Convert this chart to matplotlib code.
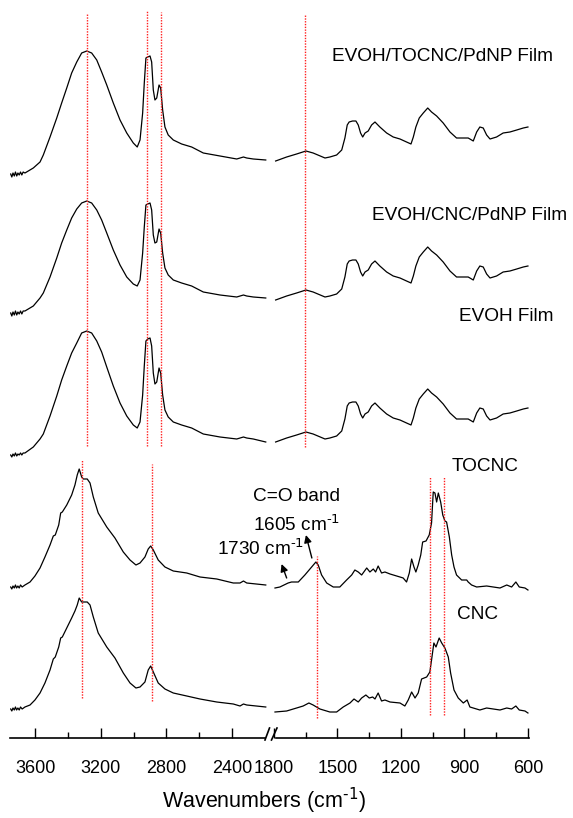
import matplotlib
matplotlib.use("Agg")
import matplotlib.pyplot as plt
from matplotlib.lines import Line2D

plt.rcParams["font.family"] = ["Liberation Sans", "DejaVu Sans"]
plt.rcParams["mathtext.default"] = "regular"
plt.rcParams["axes.unicode_minus"] = False

# ---- spectra, stacked absorbance (a.u.), high-wavenumber part (3750-2200 cm-1)
wn_hi_film = [3750, 3743, 3736, 3728, 3721, 3713, 3706, 3698, 3690, 3682, 3674, 3663,
              3612, 3571, 3551, 3510, 3469, 3439, 3408, 3378, 3347, 3317, 3286, 3256,
              3225, 3195, 3164, 3124, 3083, 3042, 3002, 2978, 2961, 2945, 2935, 2925,
              2914, 2900, 2890, 2880, 2870, 2859, 2845, 2835, 2823, 2809, 2789, 2758,
              2707, 2646, 2575, 2473, 2371, 2330, 2310, 2270, 2194]
ab_hi_tocnc_film = [5.64, 5.61, 5.65, 5.62, 5.66, 5.62, 5.65, 5.63, 5.66, 5.63, 5.66, 5.65,
                    5.70, 5.76, 5.83, 6.01, 6.20, 6.35, 6.50, 6.65, 6.76, 6.85, 6.87, 6.85,
                    6.78, 6.66, 6.53, 6.35, 6.18, 6.05, 5.95, 5.91, 5.98, 6.25, 6.55, 6.80,
                    6.81, 6.82, 6.76, 6.48, 6.38, 6.40, 6.53, 6.50, 6.28, 6.11, 6.03, 5.98,
                    5.94, 5.91, 5.85, 5.82, 5.79, 5.81, 5.80, 5.79, 5.78]
ab_hi_cnc_film = [4.25, 4.22, 4.26, 4.23, 4.27, 4.23, 4.26, 4.24, 4.27, 4.24, 4.27, 4.27,
                  4.32, 4.40, 4.45, 4.61, 4.80, 4.95, 5.08, 5.20, 5.29, 5.35, 5.37, 5.35,
                  5.28, 5.18, 5.05, 4.88, 4.73, 4.61, 4.54, 4.52, 4.58, 4.85, 5.11, 5.33,
                  5.34, 5.35, 5.28, 5.03, 4.95, 4.96, 5.09, 5.05, 4.85, 4.70, 4.63, 4.58,
                  4.55, 4.52, 4.46, 4.43, 4.41, 4.43, 4.42, 4.41, 4.40]
ab_hi_evoh = [2.83, 2.81, 2.84, 2.82, 2.85, 2.82, 2.84, 2.83, 2.85, 2.83, 2.85, 2.85,
              2.91, 2.99, 3.04, 3.22, 3.42, 3.58, 3.72, 3.85, 3.95, 4.05, 4.07, 4.05,
              3.97, 3.86, 3.71, 3.52, 3.35, 3.22, 3.13, 3.10, 3.16, 3.43, 3.72, 3.97,
              3.99, 4.00, 3.92, 3.65, 3.54, 3.56, 3.70, 3.65, 3.43, 3.28, 3.21, 3.16,
              3.13, 3.10, 3.04, 3.01, 2.99, 3.01, 3.00, 2.99, 2.96]

wn_hi_nc = [3750, 3743, 3736, 3728, 3721, 3714, 3706, 3698, 3690, 3680, 3663, 3632,
            3602, 3571, 3541, 3510, 3490, 3478, 3457, 3445, 3435, 3408, 3378, 3358,
            3344, 3332, 3317, 3307, 3283, 3266, 3246, 3216, 3164, 3114, 3063, 3022,
            2986, 2961, 2931, 2911, 2896, 2880, 2850, 2809, 2758, 2676, 2595, 2493,
            2392, 2351, 2330, 2310, 2194]
ab_hi_tocnc = [1.51, 1.49, 1.52, 1.50, 1.53, 1.50, 1.52, 1.50, 1.53, 1.51, 1.53, 1.56,
               1.62, 1.70, 1.81, 1.93, 2.02, 2.03, 2.13, 2.25, 2.26, 2.33, 2.43, 2.53,
               2.63, 2.69, 2.61, 2.59, 2.59, 2.55, 2.41, 2.25, 2.11, 2.00, 1.86, 1.78,
               1.73, 1.75, 1.81, 1.89, 1.92, 1.88, 1.78, 1.71, 1.67, 1.65, 1.61, 1.59,
               1.55, 1.55, 1.57, 1.55, 1.53]
ab_hi_cnc = [0.29, 0.27, 0.30, 0.28, 0.31, 0.28, 0.30, 0.28, 0.31, 0.29, 0.31, 0.33,
             0.38, 0.45, 0.55, 0.68, 0.79, 0.81, 0.91, 1.00, 1.01, 1.10, 1.20, 1.27,
             1.33, 1.40, 1.36, 1.36, 1.36, 1.33, 1.21, 1.05, 0.91, 0.80, 0.65, 0.55,
             0.50, 0.51, 0.56, 0.68, 0.72, 0.66, 0.55, 0.49, 0.45, 0.42, 0.39, 0.36,
             0.34, 0.32, 0.34, 0.33, 0.31]

# ---- low-wavenumber part (1800-600 cm-1)
wn_lo_film = [1791, 1739, 1692, 1648, 1614, 1558, 1535, 1503, 1479, 1464, 1453, 1444,
              1428, 1412, 1401, 1390, 1380, 1369, 1354, 1338, 1322, 1299, 1267, 1236,
              1204, 1173, 1152, 1141, 1129, 1113, 1094, 1073, 1055, 1031, 1000, 968,
              937, 905, 882, 858, 842, 827, 811, 795, 779, 748, 717, 685, 653, 622, 600]
ab_lo_tocnc_film = [5.77, 5.81, 5.84, 5.87, 5.85, 5.80, 5.81, 5.83, 5.88, 6.00, 6.13, 6.16,
                    6.17, 6.17, 6.13, 6.05, 6.01, 6.05, 6.07, 6.13, 6.16, 6.11, 6.05, 6.01,
                    5.99, 5.96, 5.94, 6.01, 6.11, 6.20, 6.25, 6.30, 6.26, 6.22, 6.15, 6.06,
                    6.00, 6.00, 6.00, 5.97, 6.06, 6.11, 6.10, 6.03, 5.99, 6.01, 6.05, 6.06,
                    6.08, 6.10, 6.11]
ab_lo_cnc_film = [4.38, 4.42, 4.45, 4.48, 4.46, 4.41, 4.42, 4.44, 4.49, 4.61, 4.74, 4.77,
                  4.78, 4.78, 4.74, 4.66, 4.62, 4.66, 4.68, 4.74, 4.77, 4.72, 4.66, 4.62,
                  4.60, 4.57, 4.55, 4.62, 4.72, 4.81, 4.86, 4.91, 4.87, 4.83, 4.76, 4.67,
                  4.61, 4.61, 4.61, 4.58, 4.67, 4.72, 4.71, 4.64, 4.60, 4.62, 4.66, 4.67,
                  4.69, 4.71, 4.72]
ab_lo_evoh = [2.96, 3.00, 3.03, 3.06, 3.04, 2.99, 3.00, 3.02, 3.07, 3.19, 3.32, 3.35,
              3.36, 3.36, 3.32, 3.24, 3.20, 3.24, 3.26, 3.32, 3.35, 3.30, 3.24, 3.20,
              3.18, 3.15, 3.13, 3.20, 3.30, 3.39, 3.44, 3.49, 3.45, 3.41, 3.34, 3.25,
              3.19, 3.19, 3.19, 3.16, 3.25, 3.30, 3.29, 3.22, 3.18, 3.20, 3.24, 3.25,
              3.27, 3.29, 3.30]

wn_lo_tocnc = [1794, 1771, 1732, 1716, 1684, 1653, 1621, 1601, 1590, 1574, 1550, 1519,
               1488, 1456, 1432, 1417, 1401, 1385, 1361, 1346, 1330, 1319, 1307, 1291,
               1275, 1251, 1204, 1189, 1173, 1160, 1149, 1138, 1129, 1118, 1106, 1097,
               1081, 1066, 1055, 1047, 1039, 1031, 1023, 1012, 1002, 992, 984, 971, 960,
               949, 937, 913, 889, 882, 866, 842, 795, 732, 700, 677, 657, 641, 614, 600]
ab_lo_tocnc = [1.50, 1.51, 1.55, 1.56, 1.56, 1.63, 1.71, 1.76, 1.73, 1.63, 1.55, 1.51,
               1.51, 1.58, 1.63, 1.68, 1.66, 1.63, 1.70, 1.66, 1.69, 1.66, 1.72, 1.65,
               1.66, 1.64, 1.61, 1.60, 1.56, 1.65, 1.79, 1.71, 1.66, 1.73, 1.83, 1.96,
               1.97, 2.03, 2.15, 2.46, 2.45, 2.36, 2.45, 2.36, 2.23, 2.17, 2.16, 2.01, 1.83,
               1.71, 1.63, 1.58, 1.58, 1.56, 1.53, 1.51, 1.52, 1.50, 1.53, 1.51, 1.56, 1.51,
               1.50, 1.48]

wn_lo_cnc = [1794, 1739, 1692, 1661, 1634, 1614, 1582, 1535, 1503, 1472, 1440, 1421,
             1401, 1385, 1365, 1349, 1333, 1322, 1307, 1291, 1275, 1251, 1204, 1181,
             1165, 1149, 1133, 1118, 1102, 1078, 1063, 1055, 1044, 1034, 1019, 1007,
             992, 976, 965, 949, 929, 905, 887, 874, 827, 795, 732, 700, 677, 657, 641,
             614, 600]
ab_lo_cnc = [0.26, 0.27, 0.30, 0.32, 0.35, 0.33, 0.29, 0.26, 0.26, 0.31, 0.35, 0.39,
             0.36, 0.40, 0.43, 0.40, 0.41, 0.39, 0.45, 0.37, 0.38, 0.36, 0.35, 0.32,
             0.38, 0.46, 0.40, 0.45, 0.59, 0.61, 0.66, 0.78, 0.95, 0.91, 1.00, 0.95,
             0.90, 0.81, 0.65, 0.48, 0.40, 0.35, 0.38, 0.31, 0.28, 0.30, 0.28, 0.30,
             0.29, 0.32, 0.28, 0.27, 0.25]

# ---- reference band positions (cm-1) and their vertical extent (a.u.)
bands_film_hi = [3286, 2920, 2835]
bands_film_hi_top = [7.25, 7.28, 7.26]
bands_film_lo = [1651]
bands_nc_hi = [3317, 2888]
bands_nc_hi_span = [(0.40, 2.78), (0.37, 2.74)]
bands_nc_lo = [1597, 1062, 995]
bands_nc_lo_span = [(0.20, 1.82), (0.23, 2.61), (0.23, 2.61)]

sample_labels = ["EVOH/TOCNC/PdNP Film", "EVOH/CNC/PdNP Film", "EVOH Film", "TOCNC", "CNC"]
label_wn = [1527, 1338, 926, 960, 937]
label_ab = [6.81, 5.22, 4.21, 2.71, 1.23]

hi_ticks = [3600, 3200, 2800, 2400]
hi_minor = [3400, 3000, 2600]
lo_ticks = [1800, 1500, 1200, 900, 600]
lo_minor = [1650, 1350, 1050, 750]

fig = plt.figure(figsize=(5.73, 8.18), dpi=100)
ax_l = fig.add_axes([0.0175, 0.0978, 0.4503, 0.9022])
ax_r = fig.add_axes([0.4729, 0.0978, 0.4503, 0.9022])

line_kw = dict(color="black", lw=0.9)
for ab in (ab_hi_tocnc_film, ab_hi_cnc_film, ab_hi_evoh):
    ax_l.plot(wn_hi_film, ab, **line_kw)
ax_l.plot(wn_hi_nc, ab_hi_tocnc, **line_kw)
ax_l.plot(wn_hi_nc, ab_hi_cnc, **line_kw)
for ab in (ab_lo_tocnc_film, ab_lo_cnc_film, ab_lo_evoh):
    ax_r.plot(wn_lo_film, ab, **line_kw)
ax_r.plot(wn_lo_tocnc, ab_lo_tocnc, **line_kw)
ax_r.plot(wn_lo_cnc, ab_lo_cnc, **line_kw)

red_kw = dict(colors="#ff2020", linestyles=(0, (1, 1)), lw=1.0)
for wn, top in zip(bands_film_hi, bands_film_hi_top):
    ax_l.vlines(wn, 2.92, top, **red_kw)
for wn in bands_film_lo:
    ax_r.vlines(wn, 2.91, 7.23, **red_kw)
for wn, (lo, hi) in zip(bands_nc_hi, bands_nc_hi_span):
    ax_l.vlines(wn, lo, hi, **red_kw)
for wn, (lo, hi) in zip(bands_nc_lo, bands_nc_lo_span):
    ax_r.vlines(wn, lo, hi, **red_kw)

for txt, x, y in zip(sample_labels, label_wn, label_ab):
    ax_r.text(x, y, txt, fontsize=13.7, ha="left", va="center")

sup = r"$^{\text{-1}}$"
ax_r.text(1898, 2.41, "C=O band", fontsize=13.7, ha="left", va="center", clip_on=False)
ax_r.text(1898, 2.13, "1605 cm" + sup, fontsize=13.7, ha="left", va="center", clip_on=False)
ax_r.text(2068, 1.89, "1730 cm" + sup, fontsize=13.7, ha="left", va="center", clip_on=False)
arrow_kw = dict(arrowstyle="-|>", color="black", lw=1.0, mutation_scale=11,
                shrinkA=0, shrinkB=0)
ax_r.annotate("", xy=(1648, 2.03), xytext=(1620, 1.80), arrowprops=arrow_kw,
              annotation_clip=False)
ax_r.annotate("", xy=(1763, 1.74), xytext=(1739, 1.60), arrowprops=arrow_kw,
              annotation_clip=False)

for ax, lim, bounds, major, minor in (
    (ax_l, (3754, 2180), (3754, 2200), hi_ticks, hi_minor),
    (ax_r, (1813, 595), (1790, 595), lo_ticks, lo_minor),
):
    ax.set_xlim(*lim)
    ax.set_ylim(0, 7.38)
    for side in ("left", "right", "top"):
        ax.spines[side].set_visible(False)
    ax.spines["bottom"].set_linewidth(1.2)
    ax.spines["bottom"].set_bounds(*bounds)
    ax.set_yticks([])
    ax.set_xticks(major)
    ax.set_xticks(minor, minor=True)
    ax.tick_params(axis="x", which="major", direction="in", length=7, width=1.0,
                   labelsize=13, pad=16)
    ax.tick_params(axis="x", which="minor", direction="in", length=4, width=1.0)
    ax.patch.set_visible(False)

# axis break marks
for x0, x1 in ((265 / 573, 269.5 / 573), (271.5 / 573, 277 / 573)):
    fig.add_artist(Line2D([x0, x1], [78 / 818, 90 / 818], transform=fig.transFigure,
                          color="black", lw=1.2))

fig.text(264 / 573, 17 / 818, "Wavenumbers (cm" + sup + ")", fontsize=15.5,
         ha="center", va="center")

fig.savefig("out.png", dpi=100)
